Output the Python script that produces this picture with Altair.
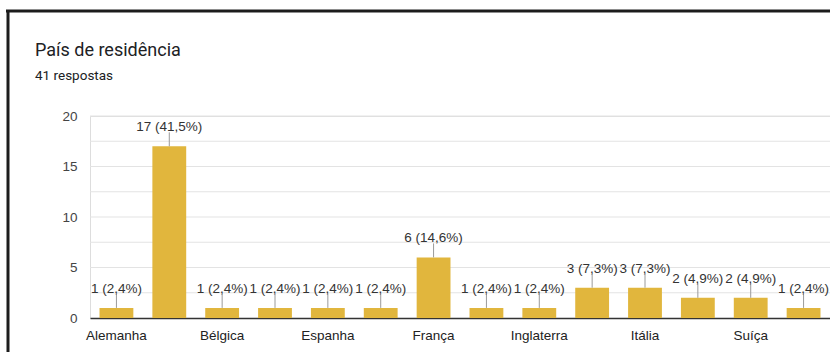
import altair as alt
import pandas as pd

categories = ["Alemanha", "Angola", "Bélgica", "Brasil", "Espanha", "Estados Unidos",
              "França", "Holanda", "Inglaterra", "Irlanda", "Itália", "Luxemburgo",
              "Suíça", "Venezuela"]
counts = [1, 17, 1, 1, 1, 1, 6, 1, 1, 3, 3, 2, 2, 1]
total = 41
shown_labels = categories[::2]
y_labels = [0, 5, 10, 15, 20]
grid_lines = [2.5, 5, 7.5, 10, 12.5, 15, 17.5, 20]

labels = [f"{c} ({c / total * 100:.1f}%)".replace(".", ",") for c in counts]
df = pd.DataFrame({"pais": categories, "n": counts, "rotulo": labels})
grid_df = pd.DataFrame({"n": grid_lines})

label_expr = "indexof(" + str(shown_labels).replace("'", '"') + ", datum.value) >= 0 ? datum.value : ''"

x = alt.X("pais:N", sort=categories, title=None,
          scale=alt.Scale(paddingInner=0.36, paddingOuter=0.18),
          axis=alt.Axis(labelAngle=0, labelExpr=label_expr, ticks=False,
                        domainColor="#333333", domainWidth=1.5,
                        labelFont="Liberation Sans", labelFontSize=13.5,
                        labelColor="#222222", labelPadding=10, grid=False))
yscale = alt.Scale(domain=[0, 20], nice=False)
yaxis = alt.Axis(values=y_labels, ticks=False, domain=False, grid=False,
                 labelFont="Liberation Sans", labelFontSize=13.5,
                 labelColor="#444444", labelPadding=13)
y = alt.Y("n:Q", title=None, scale=yscale, axis=yaxis)

grid = alt.Chart(grid_df).mark_rule(color="#e3e3e3", strokeWidth=1).encode(y=y)

base = alt.Chart(df)
bars = base.mark_bar(color="#E1B63D").encode(x=x, y=y)
leaders = base.mark_rule(color="#9a9a9a", strokeWidth=1, y2Offset=-14).encode(
    x=alt.X("pais:N", sort=categories), y=y, y2="n:Q")
texts = base.mark_text(dy=-15, baseline="alphabetic", font="Liberation Sans",
                       fontSize=13.5, color="#333333").encode(
    x=alt.X("pais:N", sort=categories), y=y, text="rotulo:N")

frame_data = alt.Data(values=[{"k": 1}])
top_border = alt.Chart(frame_data).mark_rule(color="#1c1c1c", strokeWidth=3).encode(
    x=alt.value(-84), x2=alt.value(760), y=alt.value(-105))
left_border = alt.Chart(frame_data).mark_rule(color="#1c1c1c", strokeWidth=3).encode(
    x=alt.value(-82), y=alt.value(-106), y2=alt.value(240))

chart = alt.layer(grid, bars, leaders, texts, top_border, left_border).properties(
    width=740, height=202,
    autosize=alt.AutoSizeParams(type="none"),
    padding={"left": 90, "top": 116, "right": 0, "bottom": 34},
    title=alt.Title("País de residência", subtitle="41 respostas", anchor="start",
                    frame="group", dx=-55, offset=-74,
                    font="Roboto", fontSize=18, fontWeight="normal", color="#202124",
                    subtitleFont="Roboto", subtitleFontSize=13.5, subtitleColor="#202124",
                    subtitlePadding=9),
).configure_view(stroke=None).configure(background="white")

chart.save("out.html", embed_options={"renderer": "svg", "actions": False})
